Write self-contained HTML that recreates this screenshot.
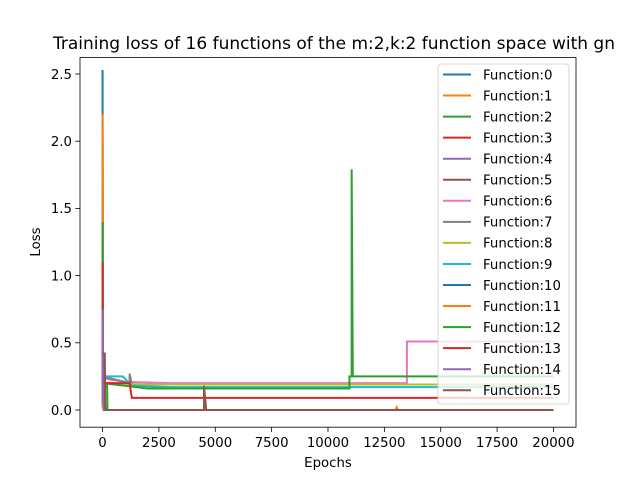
<!DOCTYPE html>
<html><head><meta charset="utf-8"><style>
body{margin:0;background:#fff}
svg{font-family:"DejaVu Sans","Liberation Sans",sans-serif}
</style></head><body>
<svg id="chart" width="640" height="480" viewBox="0 0 640 480" xmlns="http://www.w3.org/2000/svg">
<rect width="640" height="480" fill="#fff"/>
<text x="334" y="49" font-size="16.8" text-anchor="middle" textLength="562" lengthAdjust="spacingAndGlyphs">Training loss of 16 functions of the m:2,k:2 function space with gn</text>
<g id="plot"></g>
<rect x="80" y="57.6" width="496" height="369.6" fill="none" stroke="#000" stroke-width="0.8"/>
<g id="axes"></g>
<text x="328" y="467" font-size="13.3" text-anchor="middle">Epochs</text>
<text transform="translate(40,242) rotate(-90)" font-size="13.3" text-anchor="middle">Loss</text>
<g id="legend"></g>
</svg>
<script>
const colors=["#1f77b4","#ff7f0e","#2ca02c","#d62728","#9467bd","#8c564b","#e377c2","#7f7f7f","#bcbd22","#17becf"];
const xTicks=[0,2500,5000,7500,10000,12500,15000,17500,20000];
const yTicks=[0,0.5,1.0,1.5,2.0,2.5];
// each series: [epoch, loss] points
const f0=[[0,2.53],[10,0.02],[50,0],[20000,0]];
const f1=[[0,2.2],[10,0.05],[150,0],[20000,0]];
const f2=[[0,1.4],[10,0.2],[200,0.2],[220,0],[20000,0]];
const f3=[[0,1.1],[10,0.2],[100,0.2],[120,0],[20000,0]];
const f4=[[0,2.15],[10,0.1],[100,0],[20000,0]];
const f5=[[0,1.83],[10,0.1],[100,0],[20000,0]];
const f6=[[0,0.3],[200,0.23],[1000,0.21],[3000,0.2],[13500,0.2],[13500,0.51],[20000,0.51]];
const f7=[[0,0.25],[1200,0.2],[1200,0.27],[1300,0.19],[20000,0.19]];
const f8=[[0,1.8],[10,0.2],[2000,0.19],[20000,0.19]];
const f9=[[0,1.47],[10,0.25],[900,0.25],[1300,0.18],[3000,0.17],[20000,0.17]];
const f10=[[0,2.0],[10,0.05],[100,0],[20000,0]];
const f11=[[0,2.2],[10,0.02],[100,0],[13000,0],[13050,0.02],[13100,0],[20000,0]];
const f12=[[0,1.4],[10,0.2],[2000,0.16],[10950,0.16],[10950,0.25],[11050,0.25],[11050,1.79],[11100,0.25],[20000,0.25]];
const f13=[[0,1.1],[10,0.2],[1200,0.2],[1300,0.09],[20000,0.09]];
const f14=[[0,0.75],[10,0.05],[100,0],[20000,0]];
const f15=[[0,0.42],[100,0.42],[120,0],[4500,0],[4500,0.18],[4600,0],[20000,0]];
const series=[f0,f1,f2,f3,f4,f5,f6,f7,f8,f9,f10,f11,f12,f13,f14,f15];
const NS="http://www.w3.org/2000/svg";
function xs(e){return 80+496*(e+1000)/22000;}
function ys(v){return 410-v*134.4;}
const plot=document.getElementById('plot');
series.forEach((s,i)=>{
  const p=document.createElementNS(NS,'polyline');
  
  
  p.setAttribute('points',s.map(d=>xs(d[0]).toFixed(2)+','+ys(d[1]).toFixed(2)).join(' '));
  p.setAttribute('fill','none');p.setAttribute('stroke',colors[i%10]);p.setAttribute('stroke-width','2');
  plot.appendChild(p);
});
const ax=document.getElementById('axes');
xTicks.forEach(t=>{
  const x=xs(t);
  const l=document.createElementNS(NS,'line');
  
  
  l.setAttribute('x1',x);l.setAttribute('x2',x);l.setAttribute('y1',427.2);l.setAttribute('y2',432);l.setAttribute('stroke','#000');l.setAttribute('stroke-width','0.8');
  ax.appendChild(l);
  const tx=document.createElementNS(NS,'text');
  
  
  tx.setAttribute('x',x);tx.setAttribute('y',447);tx.setAttribute('font-size','13.3');tx.setAttribute('text-anchor','middle');
  tx.textContent=t;ax.appendChild(tx);
});
yTicks.forEach(t=>{
  const y=ys(t);
  const l=document.createElementNS(NS,'line');
  
  
  l.setAttribute('x1',75.2);l.setAttribute('x2',80);l.setAttribute('y1',y);l.setAttribute('y2',y);l.setAttribute('stroke','#000');l.setAttribute('stroke-width','0.8');
  ax.appendChild(l);
  const tx=document.createElementNS(NS,'text');
  
  
  tx.setAttribute('x',72);tx.setAttribute('y',y+4.8);tx.setAttribute('font-size','13.3');tx.setAttribute('text-anchor','end');
  tx.textContent=t.toFixed(1);ax.appendChild(tx);
});
const lg=document.getElementById('legend');
const box=document.createElementNS(NS,'rect');


box.setAttribute('x',438);box.setAttribute('y',64);box.setAttribute('width',131);box.setAttribute('height',340);box.setAttribute('rx',3);
box.setAttribute('fill','#fff');box.setAttribute('fill-opacity','0.8');box.setAttribute('stroke','#ccc');box.setAttribute('stroke-width','0.8');
lg.appendChild(box);
series.forEach((s,i)=>{
  const y=74.5+i*21.05;
  const l=document.createElementNS(NS,'line');
  
  
  l.setAttribute('x1',443);l.setAttribute('x2',471);l.setAttribute('y1',y);l.setAttribute('y2',y);l.setAttribute('stroke',colors[i%10]);l.setAttribute('stroke-width','2');
  lg.appendChild(l);
  const tx=document.createElementNS(NS,'text');
  
  
  tx.setAttribute('x',483);tx.setAttribute('y',y+4.8);tx.setAttribute('font-size','13.3');
  tx.textContent='Function:'+i;lg.appendChild(tx);
});
</script>
</body></html>
